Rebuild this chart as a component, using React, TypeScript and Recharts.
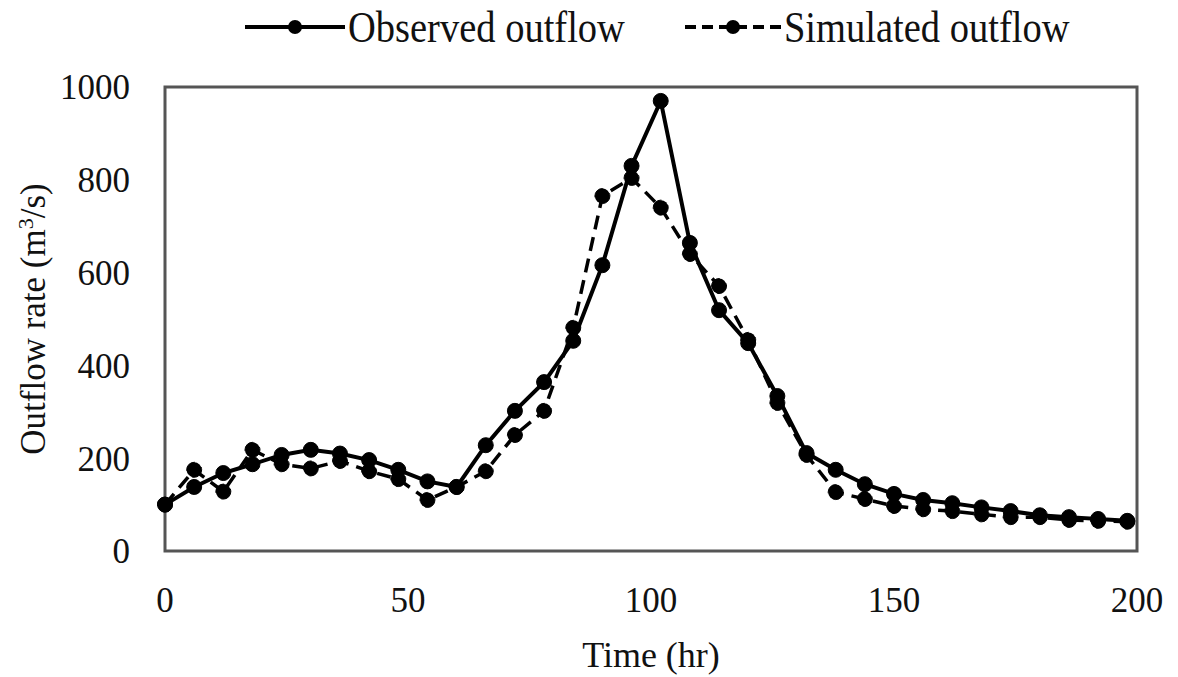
import React from "react";
import { LineChart, Line, XAxis, YAxis, ReferenceArea } from "recharts";

const hours = [
  0, 6, 12, 18, 24, 30, 36, 42, 48, 54, 60, 66, 72, 78, 84, 90, 96, 102, 108, 114, 120, 126, 132,
  138, 144, 150, 156, 162, 168, 174, 180, 186, 192, 198,
];

const observed = [
  100, 138, 168, 187, 207, 218, 210, 196, 175, 150, 138, 228, 302, 364, 453, 616, 830, 970, 664,
  519, 448, 334, 211, 175, 144, 123, 110, 103, 94, 86, 77, 73, 69, 65,
];

const simulated = [
  100, 175, 128, 218, 187, 178, 194, 172, 155, 110, 138, 172, 250, 302, 481, 765, 804, 740, 640,
  571, 455, 319, 207, 127, 112, 97, 90, 86, 79, 73, 73, 67, 65, 63,
];

const xTicks = [0, 50, 100, 150, 200];
const yTicks = [0, 200, 400, 600, 800, 1000];

const rows = hours.map((h, i) => ({ hour: h, observed: observed[i], simulated: simulated[i] }));

const FONT = "'Liberation Serif', 'DejaVu Serif', serif";

function LegendBox() {
  const item = (dash: string | undefined, label: string, lineW: number, gap: number) => (
    <div style={{ display: "flex", alignItems: "center", marginRight: gap }}>
      <svg width={lineW} height={20} style={{ marginRight: 3 }}>
        <line x1={0} y1={10} x2={lineW} y2={10} stroke="#000" strokeWidth={4} strokeDasharray={dash} />
        <circle cx={lineW / 2} cy={10} r={7} fill="#000" />
      </svg>
      <span
        style={{
          fontFamily: FONT,
          fontSize: 38.5,
          color: "#111",
          transform: "scaleY(1.15)",
          display: "inline-block",
          lineHeight: "44px",
        }}
      >
        {label}
      </span>
    </div>
  );
  return (
    <div style={{ position: "absolute", left: 245, top: 5, display: "flex", alignItems: "center" }}>
      {item(undefined, "Observed outflow", 100, 60)}
      {item("11 6", "Simulated outflow", 96, 0)}
    </div>
  );
}

export default function App() {
  return (
    <div style={{ position: "absolute", left: 0, top: 0, width: 1178, height: 677, background: "#fff" }}>
      <LineChart width={1178} height={677} data={rows} margin={{ top: 87, right: 41, bottom: 0, left: 0 }}>
        <XAxis
          dataKey="hour"
          type="number"
          domain={[0, 200]}
          ticks={xTicks}
          height={126}
          axisLine={false}
          tickLine={false}
          tickSize={0}
          tickMargin={36}
          tick={{ fontFamily: FONT, fontSize: 35, fill: "#111" }}
          label={{
            content: () => (
              <text x={651} y={667} textAnchor="middle" fontFamily={FONT} fontSize={36} fill="#111">
                Time (hr)
              </text>
            ),
          }}
        />
        <YAxis
          type="number"
          domain={[0, 1000]}
          ticks={yTicks}
          width={165}
          axisLine={false}
          tickLine={false}
          tickSize={0}
          tickMargin={35}
          tick={{ fontFamily: FONT, fontSize: 35, fill: "#111" }}
          label={{
            content: () => (
              <text
                x={0}
                y={0}
                transform="translate(45,319) rotate(-90)"
                textAnchor="middle"
                fontFamily={FONT}
                fontSize={35}
                fill="#111"
              >
                Outflow rate (m
                <tspan fontSize={22} dy={-12}>3</tspan>
                <tspan dy={12}>/s)</tspan>
              </text>
            ),
          }}
        />
        <ReferenceArea x1={0} x2={200} y1={0} y2={1000} fill="none" stroke="#555" strokeWidth={3} />
        <Line
          dataKey="simulated"
          stroke="#000"
          strokeWidth={3.5}
          strokeDasharray="14 8"
          dot={{ r: 7.5, fill: "#000", stroke: "#000", strokeWidth: 1 }}
          isAnimationActive={false}
        />
        <Line
          dataKey="observed"
          stroke="#000"
          strokeWidth={4}
          dot={{ r: 7.5, fill: "#000", stroke: "#000", strokeWidth: 1 }}
          isAnimationActive={false}
        />
      </LineChart>
      <LegendBox />
    </div>
  );
}
